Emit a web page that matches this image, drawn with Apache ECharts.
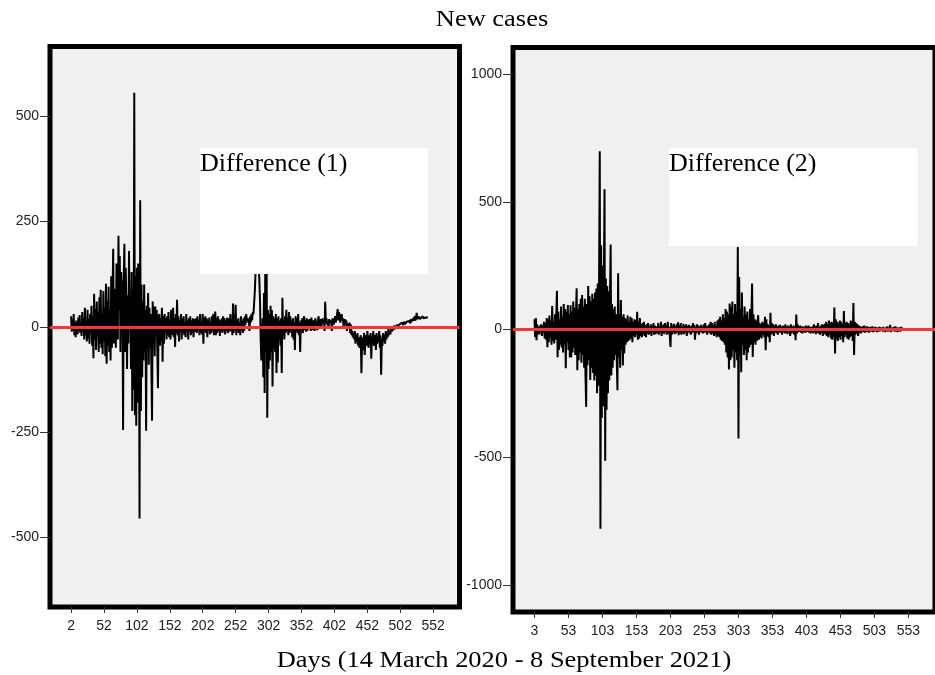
<!DOCTYPE html>
<html>
<head>
<meta charset="utf-8">
<script src="https://cdn.jsdelivr.net/npm/echarts@6/dist/echarts.min.js"></script>
<style>
  html, body { margin: 0; padding: 0; background: #fff; }
  #chart { width: 935px; height: 675px; }
</style>
</head>
<body>
<div id="chart"></div>
<script>
// First differences of daily new cases, starting at day 2
const diff1Start = 2;
const diff1 = [
  25, -12, 18, -8, 30, -20, 10, -25, 15, 5,
  -18, 22, -10, 28, -15, 8, -22, 35, -12, 20,
  -30, 45, -20, 12, -35, 40, -28, 18, -40, 30,
  -15, 50, -45, 25, -75, 78, -30, 42, -55, 60,
  -20, 35, -60, 70, -40, 88, -50, 30, -65, 85,
  -35, 45, -70, 102, -88, 60, -45, 95, -60, 40,
  -80, 120, -50, 75, 185, -40, 90, 60, -50, 150,
  70, -30, 216, 40, 168, -60, 130, 80, 110, -245,
  120, 197, -60, 140, 50, -100, 75, -40, 180, 20,
  60, -100, 130, -200, 90, -150, 555, -210, 120, -235,
  140, -180, 150, 145, -455, 300, -200, 100, -120, 60,
  -80, 100, -60, 40, -247, 50, -30, 80, -90, 45,
  -50, 30, -100, -223, 60, -40, 48, -70, 48, -20,
  40, -60, -146, 25, 30, -45, 20, -35, 45, -83,
  25, -40, 30, -15, 20, -30, 25, -20, 35, -25,
  15, -30, 40, -20, 10, 45, -25, 20, -48, 30,
  -15, 64, -20, 25, -35, 15, -10, 30, -30, 20,
  -15, 25, -20, 10, -25, 30, -10, 15, -30, 20,
  -10, 25, -20, 15, -15, 20, -25, 10, 18, -12,
  20, -15, 25, -10, 15, -20, 30, -15, 10, -18,
  30, -40, 20, -10, 25, -15, 20, -25, 15, -10,
  22, -18, 12, -15, 25, -10, 30, -20, 15, 36,
  -20, 20, -15, 25, -10, 18, -22, 15, -12, 20,
  -15, 25, -10, 20, -18, 15, -10, 22, -15, 10,
  20, -12, 30, -8, 15, -20, 55, -15, 25, -10,
  52, -20, 15, -12, 20, -15, 10, -20, 25, -10,
  15, -15, 20, -10, 25, 5, 30, 15, 20, 10,
  20, -10, 25, 10, 30, 15, 35, 30, 55, 80,
  120, 150, 175, 160, 185, 140, 110, 60, -30, -80,
  -40, 20, -120, 80, -157, 150, -60, 165, -216, 40,
  -100, 30, -80, 50, -60, 40, -142, 25, -50, 20,
  -60, 30, -110, 20, -85, 25, -30, 15, -45, 20,
  -110, 69, -20, 15, -30, 25, -15, 40, -10, 20,
  -20, 35, -15, 25, -10, 15, -25, 20, -30, 10,
  -55, 25, -10, 20, -15, 30, -20, 10, -60, 15,
  -10, 20, -15, 12, 25, -8, 15, -12, 20, -10,
  15, -5, 18, 10, -10, 22, 5, -8, 15, 8,
  -10, 20, 5, 12, -8, 15, 25, -5, 10, 18,
  -5, 12, 20, 8, 15, -10, 59, 10, 20, 5,
  12, -5, 18, 10, 8, 15, -10, 20, 12, 5,
  15, 25, 10, 20, 30, 42, 15, 35, 20, 10,
  25, 30, 15, 20, -5, 10, 18, 5, 15, -10,
  8, 12, -5, 10, -15, 5, -20, -10, -25, -15,
  -30, -10, -40, -20, -35, -15, -45, -25, -50, -30,
  -20, -110, -40, -25, -55, -15, -67, -35, -20, -45,
  -10, -30, -50, -20, -40, -15, -76, -25, -35, -10,
  -45, -20, -30, -55, -15, -40, -25, -35, -10, -50,
  -20, -114, -30, -45, -15, -35, -20, -40, -10, -30,
  -15, -25, -5, -20, -10, -18, -5, -12, 0, -8,
  -5, 3, -6, 2, -3, 5, 0, 4, -2, 6,
  3, 8, 5, 10, 4, 7, 12, 6, 10, 8,
  12, 9, 15, 10, 14, 8, 18, 12, 16, 10,
  20, 14, 25, 15, 22, 33, 18, 20, 15, 24,
  18, 20, 22, 16, 25, 20, 18, 24, 20, 22,
  25, 20, 22
];

// Second differences of daily new cases, starting at day 3
const diff2Start = 3;
const diff2 = [
  40, -30, 45, -42, 20, -15, 10, -20, 15, -10,
  20, -25, 15, -10, 30, -35, 25, -40, 45, -69,
  40, -50, 55, -30, 35, -60, 92, -45, 30, -55,
  60, -40, 50, 152, -109, 70, -80, 40, -60, 90,
  -70, 50, -90, 100, -60, 80, -152, 70, -50, 96,
  -80, 60, -110, 95, -110, 70, -90, 110, -70, 85,
  -100, 60, 161, -160, 80, -120, 100, -90, 120, -130,
  135, -100, 90, -150, 120, -180, -303, 100, -140, 170,
  -120, 130, -198, 110, -150, 140, -170, 120, -200, 145,
  -180, 160, -250, 180, -220, 200, 698, -780, 330, -346,
  250, -300, 180, 549, -514, 200, -314, 170, -250, 150,
  -200, 120, 333, -180, 100, -150, 80, -120, 90, -100,
  60, -120, -238, 220, -110, 60, -150, 115, -80, 50,
  -141, 60, -94, 45, -60, 40, -50, 55, -45, 30,
  -40, 50, -35, 45, -50, 30, -25, 40, -30, 35,
  -20, 69, -40, 30, -35, 45, -25, 20, -30, 25,
  -20, 30, -25, 15, -30, 20, -15, 25, -20, 10,
  -15, 20, -25, 15, -10, 25, -20, 15, -18, 12,
  18, -15, 25, -20, 12, -10, 30, -25, 15, -12,
  20, -18, 25, -10, 15, -20, 30, -15, 10, -25,
  -68, 25, -20, 15, -10, 22, -18, 12, -15, 20,
  -10, 28, -22, 15, -12, 25, -20, 10, -15, 22,
  -18, 15, -10, 20, -25, 12, -8, 18, -15, 10,
  -20, 15, -12, 25, -10, 18, -40, 12, -15, 20,
  -10, 15, -20, 12, -8, 18, -12, 10, -15, 20,
  -12, 25, -10, 15, -20, 12, -8, 20, -15, 30,
  -20, 25, -15, 18, -25, 30, -20, 15, -30, 35,
  -25, 40, -30, 50, -40, 35, -45, 60, -50, 45,
  -60, 80, -90, 70, -110, 60, -157, 102, -120, 90,
  -110, 110, -80, 60, -150, 100, -90, 70, -120, 323,
  -427, 205, -100, 80, -167, 145, -60, 50, -100, 90,
  -80, 60, -120, 70, -90, 40, -70, 80, -60, 50,
  180, -108, 60, -50, 40, -60, 35, -45, 30, 56,
  -40, 25, -30, 20, -35, 30, -20, 25, -30, 50,
  -81, 40, -25, 20, -30, 15, -50, 65, -20, 25,
  -15, 20, -25, 15, -10, 20, -15, 12, -20, 15,
  -10, 18, -12, 10, -20, 15, -8, 12, -15, 20,
  -12, 10, -18, 15, -10, 12, -25, 20, -15, 10,
  -12, 15, -20, 12, -42, 59, -15, 20, -10, 12,
  -8, 15, -12, 10, -15, 12, -10, 8, -12, 15,
  -10, 12, -8, 15, -12, 10, -15, 8, -10, 12,
  -15, 20, -10, 12, -18, 15, -12, 25, -15, 10,
  -20, 15, -12, 20, -25, 18, -15, 22, -20, 30,
  -25, 20, -30, 35, -20, 25, -35, 30, -40, 25,
  -30, 86, -94, 40, -35, 30, -45, 25, -30, 35,
  -40, 30, -25, 20, -50, 72, -30, 25, -20, 30,
  -35, 25, -40, 20, -30, 35, -25, 30, -45, 104,
  -100, 30, -20, 25, -15, 20, -25, 15, -10, 12,
  -15, 10, -8, 12, -10, 15, -12, 8, -10, 12,
  -8, 10, -12, 8, -6, 10, -8, 12, -10, 6,
  -8, 10, -5, 8, -10, 6, -8, 10, -6, 8,
  -5, 6, -8, 10, -6, 5, -10, 8, -5, 12,
  -8, 6, -5, 18, -10, 5, -6, 8, -5, 10,
  -8, 12, -6, 5, -10, 8, -5, 6, -8, 10,
  -5, 8
];

// Tick values shown on each axis
const xTicks1 = [2, 52, 102, 152, 202, 252, 302, 352, 402, 452, 502, 552];
const xTicks2 = [3, 53, 103, 153, 203, 253, 303, 353, 403, 453, 503, 553];
const yTicks1 = [-500, -250, 0, 250, 500];
const yTicks2 = [-1000, -500, 0, 500, 1000];

const titleText = 'New cases';
const xAxisTitle = 'Days (14 March 2020 - 8 September 2021)';
const panelLabels = ['Difference (1)', 'Difference (2)'];

const toPairs = (start, arr) => arr.map((v, i) => [start + i, v]);

const serif = '"Liberation Serif", "DejaVu Serif", serif';
const sans = '"Liberation Sans", Arial, sans-serif';
const plain = v => String(v);

function xAxisFor(gridIndex, min, max, ticks) {
  return {
    type: 'value', gridIndex, min, max, position: 'bottom',
    axisLine: { show: false, onZero: false },
    splitLine: { show: false },
    axisTick: { show: true, customValues: ticks, length: 6, lineStyle: { color: '#333', width: 1 } },
    axisLabel: { customValues: ticks, formatter: plain, color: '#222', fontSize: 14, fontFamily: sans, margin: 12 }
  };
}
function yAxisFor(gridIndex, min, max, ticks) {
  return {
    type: 'value', gridIndex, min, max, position: 'left',
    axisLine: { show: false, onZero: false },
    splitLine: { show: false },
    axisTick: { show: true, customValues: ticks, length: 10, lineStyle: { color: '#333', width: 1 } },
    axisLabel: { customValues: ticks, formatter: plain, color: '#222', fontSize: 14, fontFamily: sans, margin: 11 }
  };
}
function zeroLine() {
  return {
    silent: true, symbol: 'none', animation: false,
    label: { show: false },
    lineStyle: { color: '#f03838', width: 3, type: 'solid' },
    data: [{ yAxis: 0 }]
  };
}

const chart = echarts.init(document.getElementById('chart'), null, { renderer: 'canvas' });
chart.setOption({
  animation: false,
  backgroundColor: '#ffffff',
  grid: [
    { left: 50, top: 46.5, width: 409.5, height: 560.5, show: true,
      backgroundColor: '#f0f0f0', borderColor: '#000', borderWidth: 5, containLabel: false },
    { left: 513, top: 47.5, width: 433, height: 564.5, show: true,
      backgroundColor: '#f0f0f0', borderColor: '#000', borderWidth: 5, containLabel: false }
  ],
  xAxis: [
    xAxisFor(0, -30, 592, xTicks1),
    xAxisFor(1, -28.6, 592, xTicks2)
  ],
  yAxis: [
    yAxisFor(0, -665, 665, yTicks1),
    yAxisFor(1, -1106, 1104, yTicks2)
  ],
  series: [
    { type: 'line', xAxisIndex: 0, yAxisIndex: 0, data: toPairs(diff1Start, diff1),
      showSymbol: false, symbol: 'none', lineStyle: { color: '#000', width: 2 },
      markLine: zeroLine() },
    { type: 'line', xAxisIndex: 1, yAxisIndex: 1, data: toPairs(diff2Start, diff2),
      showSymbol: false, symbol: 'none', lineStyle: { color: '#000', width: 2 },
      markLine: zeroLine() }
  ],
  graphic: [
    { type: 'text', x: 492, y: 20, scaleX: 1.15, z: 100,
      style: { text: titleText, font: '23px ' + serif, fill: '#000', align: 'center', verticalAlign: 'middle' } },
    { type: 'text', x: 504, y: 661, scaleX: 1.15, z: 100,
      style: { text: xAxisTitle, font: '23px ' + serif, fill: '#000', align: 'center', verticalAlign: 'middle' } },
    { type: 'rect', z: 100, shape: { x: 200, y: 148, width: 228, height: 126 }, style: { fill: '#ffffff' } },
    { type: 'text', x: 200, y: 151, z: 101,
      style: { text: panelLabels[0], font: '26px ' + serif, fill: '#000', align: 'left', verticalAlign: 'top' } },
    { type: 'rect', z: 100, shape: { x: 669, y: 148, width: 249, height: 98 }, style: { fill: '#ffffff' } },
    { type: 'text', x: 669, y: 151, z: 101,
      style: { text: panelLabels[1], font: '26px ' + serif, fill: '#000', align: 'left', verticalAlign: 'top' } }
  ]
});
</script>
</body>
</html>
